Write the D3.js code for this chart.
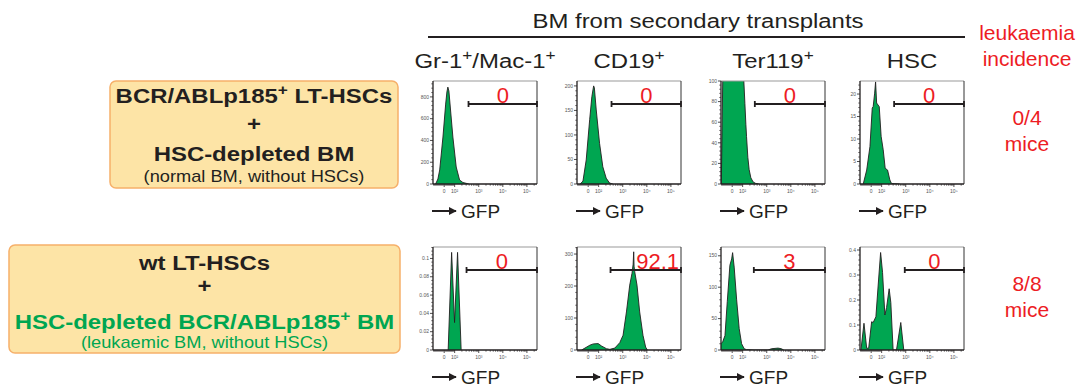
<!DOCTYPE html>
<html>
<head>
<meta charset="utf-8">
<script src="https://cdn.jsdelivr.net/npm/d3@7"></script>
<style>
  body { margin: 0; background: #fff; }
  svg { display: block; font-family: "Liberation Sans", Arial, sans-serif; }
</style>
</head>
<body>
<div id="chart"></div>
<script>
// ---- data ----
const markers = [['Gr-1', '+', '/Mac-1', '+'], ['CD19', '+'], ['Ter119', '+'], ['HSC']];
const incidence = ['0/4', '8/8'];
const gatePercent = [[0, 0, 0, 0], [0, 92.1, 3, 0]];
const gateStart = [[376, 342, 320, 329], [311, 311, 291, 911]];
const yMax = [[946, 210, 100, 22.9], [0.1125, 322, 164, 0.412]];
const yTicks = [
  [[0, 200, 400, 600, 800], [0, 50, 100, 150, 200], [0, 20, 40, 60, 80, 100], [0, 5, 10, 15, 20]],
  [[0, 0.02, 0.04, 0.06, 0.08, 0.1], [0, 100, 200, 300], [0, 50, 100, 150], [0, 0.1, 0.2, 0.3, 0.4]]
];
const xTickVals = [0, 100, 1000, 10000, 100000];
const xTickLabels = ['0', '10²', '10³', '10⁴', '10⁵'];

// histograms: [GFP value, count]
const histGr1A = [[-82, 0], [-60, 46], [-43, 129], [-12, 431], [14, 734], [26, 845], [35, 890], [45, 854], [64, 643], [83, 431], [116, 156], [160, 37], [219, 14], [387, 0]];
const histCD19A = [[-76, 0], [-50, 6], [-19, 49], [14, 131], [35, 178], [52, 200], [59, 196], [77, 151], [109, 83], [149, 35], [205, 12], [283, 2], [387, 0]];
const histTerA = [[-104, 0], [-85, 140], [7, 160], [102, 130], [112, 100], [124, 78], [136, 58], [145, 46], [164, 26], [186, 14], [219, 6], [272, 2], [352, 0.5], [468, 0]];
const histHscA = [[-76, 0], [-43, 3.1], [-12, 8.3], [10, 16.9], [19, 17.2], [33, 20.2], [42, 22.7], [52, 18], [77, 17.2], [95, 10.6], [116, 7.6], [140, 3.5], [176, 3.1], [219, 0.9], [257, 0.1], [566, 0]];
const histGr1B = [[38, 0], [71, 0.1066], [99, 0.03], [132, 0.1066], [186, 0]];
const histCD19B = [[-63, 0], [-31, 6], [16, 15], [48, 19], [95, 20], [132, 12.5], [212, 4], [291, 2], [468, 6], [753, 23], [1031, 46], [1425, 119], [1952, 203], [2427, 240], [2700, 268], [2851, 307], [2950, 262], [3138, 245], [3906, 203], [5050, 119], [6914, 46], [8936, 9], [10507, 0]];
const histTerB = [[-107, 10], [-91, 13], [-69, 23], [-47, 77], [-22, 135], [-5, 145], [4, 155], [19, 132], [42, 81], [67, 34], [90, 10], [116, 2], [145, 0.5], [300, 0], [1134, 0], [1567, 2], [2937, 3], [4058, 2], [5050, 0]];
const histHscB = [[-98, 0], [-69, 0.107], [-43, 0.007], [-24, 0.007], [4, 0.113], [19, 0.110], [45, 0.133], [67, 0.26], [90, 0.39], [109, 0.31], [136, 0.14], [160, 0.17], [205, 0.245], [240, 0.19], [299, 0], [413, 0], [622, 0.11], [828, 0]];
const hists = [[histGr1A, histCD19A, histTerA, histHscA], [histGr1B, histCD19B, histTerB, histHscB]];

// ---- layout ----
const W = 1092, H = 388;
const colX = [433, 577, 721, 860];
const rowY = [81, 247];
const pw = 104, ph = 103;
const red = '#ed1c24', green = '#00a651', ink = '#231f20';
const SX = 1.14; // the figure's lettering is a bit wider than Arial

const svg = d3.select('#chart').append('svg').attr('width', W).attr('height', H);

// logicle-like transform (linear below 100, log above)
function tr(v) { return v >= 100 ? Math.log10(v) : 2 + (v - 100) / (100 * Math.LN10); }
const xT = d3.scaleLinear().domain([tr(-107), tr(262144)]).range([0, pw]);
const x = v => xT(tr(v));

const xMinor = [];
for (let v = -100; v < 100; v += 10) if (v !== 0) xMinor.push(v);
[100, 1000, 10000, 100000].forEach(d => { for (let k = 2; k <= 9; k++) if (d * k < 262144) xMinor.push(d * k); });

function stretch(sel, cx, sx) {
  sel.attr('transform', `translate(${cx},0) scale(${sx},1) translate(${-cx},0)`);
}

function supText(sel, parts, baseSize) {
  parts.forEach((p, i) => {
    const isSup = p === '+';
    const t = sel.append('tspan').text(p);
    if (isSup) t.attr('font-size', baseSize * 0.72).attr('dy', -baseSize * 0.38);
    else if (i > 0 && parts[i - 1] === '+') t.attr('dy', baseSize * 0.38);
  });
}

// header
const title = svg.append('text').attr('x', 698).attr('y', 28).attr('text-anchor', 'middle')
  .attr('font-size', 21).attr('fill', ink).text('BM from secondary transplants');
stretch(title, 698, SX);
svg.append('line').attr('x1', 428).attr('x2', 965).attr('y1', 37).attr('y2', 37)
  .attr('stroke', ink).attr('stroke-width', 2);

markers.forEach((m, i) => {
  const cx = colX[i] + pw / 2;
  const t = svg.append('text').attr('x', cx).attr('y', 68)
    .attr('text-anchor', 'middle').attr('font-size', 21).attr('fill', ink);
  supText(t, m, 21);
  stretch(t, cx, SX);
});

svg.append('text').attr('x', 1027).attr('y', 40).attr('text-anchor', 'middle')
  .attr('font-size', 21).attr('fill', red).text('leukaemia');
svg.append('text').attr('x', 1027).attr('y', 66).attr('text-anchor', 'middle')
  .attr('font-size', 21).attr('fill', red).text('incidence');
incidence.forEach((s, r) => {
  const yy = rowY[r] + 44;
  svg.append('text').attr('x', 1027).attr('y', yy).attr('text-anchor', 'middle')
    .attr('font-size', 21).attr('fill', red).text(s);
  svg.append('text').attr('x', 1027).attr('y', yy + 26).attr('text-anchor', 'middle')
    .attr('font-size', 21).attr('fill', red).text('mice');
});

// left boxes
const boxes = [
  { x: 110, y: 81, w: 288, h: 107, lines: [
    { parts: ['BCR/ABLp185', '+', ' LT-HSCs'], y: 103, bold: true, color: ink },
    { parts: ['+'], y: 131, bold: true, color: ink, plain: true },
    { parts: ['HSC-depleted BM'], y: 161, bold: true, color: ink },
    { parts: ['(normal BM, without HSCs)'], y: 182, bold: false, color: ink, small: true }
  ] },
  { x: 9, y: 245, w: 391, h: 108, lines: [
    { parts: ['wt LT-HSCs'], y: 270, bold: true, color: ink },
    { parts: ['+'], y: 293, bold: true, color: ink, plain: true },
    { parts: ['HSC-depleted BCR/ABLp185', '+', ' BM'], y: 329, bold: true, color: green },
    { parts: ['(leukaemic BM, without HSCs)'], y: 348, bold: false, color: green, small: true }
  ] }
];
boxes.forEach(b => {
  svg.append('rect').attr('x', b.x).attr('y', b.y).attr('width', b.w).attr('height', b.h)
    .attr('rx', 6).attr('fill', '#fde4a6').attr('stroke', '#f6b06a').attr('stroke-width', 1.5);
  const cx = b.x + b.w / 2;
  b.lines.forEach(l => {
    const fs = l.small ? 16 : 21;
    const t = svg.append('text').attr('x', cx).attr('y', l.y)
      .attr('text-anchor', 'middle').attr('font-size', fs)
      .attr('font-weight', l.bold ? 'bold' : 'normal').attr('fill', l.color);
    if (l.plain) t.text(l.parts[0]);
    else supText(t, l.parts, fs);
    stretch(t, cx, SX);
  });
});

// arrow marker
svg.append('defs').append('marker').attr('id', 'arr').attr('viewBox', '0 0 10 10')
  .attr('refX', 9).attr('refY', 5).attr('markerWidth', 4).attr('markerHeight', 4)
  .attr('markerUnits', 'strokeWidth').attr('orient', 'auto')
  .append('path').attr('d', 'M0,0L10,5L0,10z').attr('fill', ink);

// panels
rowY.forEach((py, r) => {
  colX.forEach((px, c) => {
    const g = svg.append('g').attr('transform', `translate(${px},${py})`);
    const y = d3.scaleLinear().domain([0, yMax[r][c]]).range([ph, 0]);
    const id = `clip${r}${c}`;
    g.append('clipPath').attr('id', id).append('rect').attr('width', pw).attr('height', ph);

    const data = hists[r][c];
    const area = d3.area().x(d => x(d[0])).y0(ph).y1(d => y(d[1]));
    const line = d3.line().x(d => x(d[0])).y(d => y(d[1]));
    const hg = g.append('g').attr('clip-path', `url(#${id})`);
    hg.append('path').datum(data).attr('d', area).attr('fill', green);
    hg.append('path').datum(data).attr('d', line).attr('fill', 'none')
      .attr('stroke', ink).attr('stroke-width', 0.9).attr('stroke-linejoin', 'round');

    // frame
    g.append('line').attr('x1', 0).attr('x2', pw).attr('y1', 0).attr('y2', 0).attr('stroke', '#999').attr('stroke-width', 1);
    g.append('line').attr('x1', pw).attr('x2', pw).attr('y1', 0).attr('y2', ph).attr('stroke', '#333').attr('stroke-width', 1);

    // x axis
    const xa = g.append('g').attr('transform', `translate(0,${ph})`);
    xa.append('line').attr('x1', 0).attr('x2', pw).attr('stroke', ink).attr('stroke-width', 1.3);
    xa.selectAll('.mn').data(xMinor).enter().append('line')
      .attr('x1', d => x(d)).attr('x2', d => x(d)).attr('y1', 0).attr('y2', 1.8)
      .attr('stroke', ink).attr('stroke-width', 0.6);
    xa.selectAll('.mj').data(xTickVals).enter().append('line')
      .attr('x1', d => x(d)).attr('x2', d => x(d)).attr('y1', 0).attr('y2', 3)
      .attr('stroke', ink).attr('stroke-width', 0.8);
    xa.selectAll('.lb').data(xTickVals).enter().append('text')
      .attr('x', d => x(d)).attr('y', 9).attr('text-anchor', 'middle')
      .attr('font-size', 5).attr('fill', '#555').text((d, i) => xTickLabels[i]);

    // y axis
    const ya = g.append('g');
    ya.append('line').attr('y1', 0).attr('y2', ph).attr('stroke', ink).attr('stroke-width', 1.3);
    const yt = yTicks[r][c];
    const step = yt[1] - yt[0];
    const yMinor = d3.range(0, yMax[r][c], step / 5).filter(v => Math.abs(v / step - Math.round(v / step)) > 1e-6);
    ya.selectAll('.mn').data(yMinor).enter().append('line')
      .attr('x1', -1.8).attr('x2', 0).attr('y1', d => y(d)).attr('y2', d => y(d))
      .attr('stroke', ink).attr('stroke-width', 0.6);
    ya.selectAll('.mj').data(yt).enter().append('line')
      .attr('x1', -3).attr('x2', 0).attr('y1', d => y(d)).attr('y2', d => y(d))
      .attr('stroke', ink).attr('stroke-width', 0.8);
    ya.selectAll('.lb').data(yt).enter().append('text')
      .attr('x', -4).attr('y', d => y(d) + 1.7).attr('text-anchor', 'end')
      .attr('font-size', 5).attr('fill', '#555').text(d => String(d));

    // gate
    const gy = 23;
    const gx0 = x(gateStart[r][c]);
    const gate = g.append('g').attr('stroke', ink).attr('stroke-width', 1.8);
    gate.append('line').attr('x1', gx0).attr('x2', pw).attr('y1', gy).attr('y2', gy);
    gate.append('line').attr('x1', gx0).attr('x2', gx0).attr('y1', gy - 3).attr('y2', gy + 3);
    gate.append('line').attr('x1', pw).attr('x2', pw).attr('y1', gy - 3).attr('y2', gy + 3);
    const label = String(gatePercent[r][c]);
    const lbl = g.append('text').attr('y', gy - 1).attr('font-size', 22).attr('fill', red).text(label);
    if (label.length > 2) lbl.attr('x', pw - 2).attr('text-anchor', 'end');
    else lbl.attr('x', (gx0 + pw) / 2).attr('text-anchor', 'middle');

    // -> GFP
    g.append('line').attr('x1', -1).attr('x2', 23).attr('y1', ph + 27).attr('y2', ph + 27)
      .attr('stroke', ink).attr('stroke-width', 2).attr('marker-end', 'url(#arr)');
    g.append('text').attr('x', 28).attr('y', ph + 34).attr('font-size', 19)
      .attr('fill', ink).text('GFP');
  });
});
</script>
</body>
</html>
